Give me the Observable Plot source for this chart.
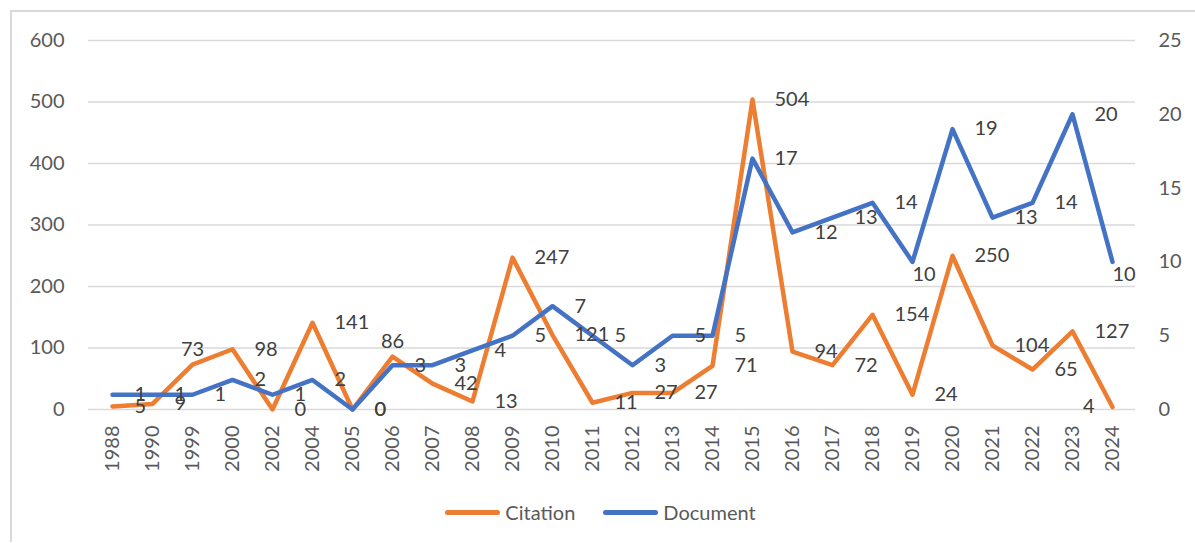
<!DOCTYPE html>
<html>
<head>
<meta charset="utf-8">
<script src="https://cdn.jsdelivr.net/npm/d3@7"></script>
<script src="https://cdn.jsdelivr.net/npm/@observablehq/plot@0.6"></script>
<style>
  html, body { margin: 0; padding: 0; background: #fff; }
  body { width: 1195px; height: 543px; position: relative; overflow: hidden; font-family: Lato, "Open Sans", sans-serif; }
  #frame { position: absolute; left: 10px; top: 10px; width: 1200px; height: 532px; border-top: 2px solid #d9d9d9; border-left: 2px solid #d9d9d9; box-sizing: border-box; pointer-events: none; }
  #chart { position: absolute; left: 0; top: 0; }
  #legend { position: absolute; left: 0; top: 500px; width: 1195px; height: 24px; display: flex; justify-content: center; align-items: center; gap: 28px; font-size: 20px; color: #595959; padding-left: 6px; box-sizing: border-box; }
  .item { display: flex; align-items: center; gap: 5px; }
  .swatch { width: 55px; height: 5px; border-radius: 3px; }
</style>
</head>
<body>
<div id="frame"></div>
<div id="chart"></div>
<div id="legend">
  <div class="item"><div class="swatch" style="background:#ED7D31"></div><span>Citation</span></div>
  <div class="item"><div class="swatch" style="background:#4472C4"></div><span>Document</span></div>
</div>
<script>
const years = ["1988","1990","1999","2000","2002","2004","2005","2006","2007","2008","2009","2010","2011","2012","2013","2014","2015","2016","2017","2018","2019","2020","2021","2022","2023","2024"];
const citations = [5,9,73,98,0,141,0,86,42,13,247,121,11,27,27,71,504,94,72,154,24,250,104,65,127,4];
const documents = [1,1,1,2,1,2,0,3,3,4,5,7,5,3,5,5,17,12,13,14,10,19,13,14,20,10];
const leftTicks = [0,100,200,300,400,500,600];
const rightTicks = [0,5,10,15,20,25];

// label placement exceptions (style only)
const citLabelLeft = ["2024"];
const citLabelAbove = ["1999","2006"];
const docLabelBelow = ["2019","2024"];

const RATIO = 600 / 25; // right axis max 25 maps to left axis max 600
const data = years.map((y, i) => ({year: y, cit: citations[i], doc: documents[i]}));

const ORANGE = "#ED7D31", BLUE = "#4472C4";

const citRight = data.filter(d => !citLabelLeft.includes(d.year) && !citLabelAbove.includes(d.year));
const citLeft = data.filter(d => citLabelLeft.includes(d.year));
const citAbove = data.filter(d => citLabelAbove.includes(d.year));
const docRight = data.filter(d => !docLabelBelow.includes(d.year));
const docBelow = data.filter(d => docLabelBelow.includes(d.year));

const labelStyle = {fill: "#404040", fontSize: 20};

const chart = Plot.plot({
  width: 1195,
  height: 490,
  marginTop: 40,
  marginBottom: 81,
  marginLeft: 88,
  marginRight: 60,
  style: {fontFamily: "Lato, 'Open Sans', sans-serif", fontSize: "20px", color: "#595959", background: "transparent"},
  x: {type: "point", domain: years, padding: 0.5, label: null},
  y: {domain: [0, 600], label: null},
  marks: [
    Plot.gridY(leftTicks, {stroke: "#d9d9d9", strokeOpacity: 1, strokeWidth: 1.5}),
    Plot.axisY({ticks: leftTicks, tickSize: 0, tickPadding: 24, fill: "#595959", fontSize: 20, label: null}),
    Plot.axisY({anchor: "right", ticks: rightTicks.map(t => t * RATIO), tickFormat: d => String(Math.round(d / RATIO)), tickSize: 0, tickPadding: 23, fill: "#595959", fontSize: 20, label: null}),
    Plot.axisX({tickRotate: -90, tickSize: 0, tickPadding: 16, fill: "#595959", fontSize: 20, label: null}),
    Plot.line(data, {x: "year", y: "cit", stroke: ORANGE, strokeWidth: 4.5, strokeLinejoin: "round", strokeLinecap: "round"}),
    Plot.line(data, {x: "year", y: d => d.doc * RATIO, stroke: BLUE, strokeWidth: 4.5, strokeLinejoin: "round", strokeLinecap: "round"}),
    Plot.text(citRight, {x: "year", y: "cit", text: d => String(d.cit), dx: 22, textAnchor: "start", ...labelStyle}),
    Plot.text(citLeft, {x: "year", y: "cit", text: d => String(d.cit), dx: -18, textAnchor: "end", ...labelStyle}),
    Plot.text(citAbove, {x: "year", y: "cit", text: d => String(d.cit), dx: 0, dy: -15, textAnchor: "middle", ...labelStyle}),
    Plot.text(docRight, {x: "year", y: d => d.doc * RATIO, text: d => String(d.doc), dx: 22, textAnchor: "start", ...labelStyle}),
    Plot.text(docBelow, {x: "year", y: d => d.doc * RATIO, text: d => String(d.doc), dx: 0, dy: 13, textAnchor: "start", ...labelStyle})
  ]
});
document.getElementById("chart").appendChild(chart);
</script>
</body>
</html>
